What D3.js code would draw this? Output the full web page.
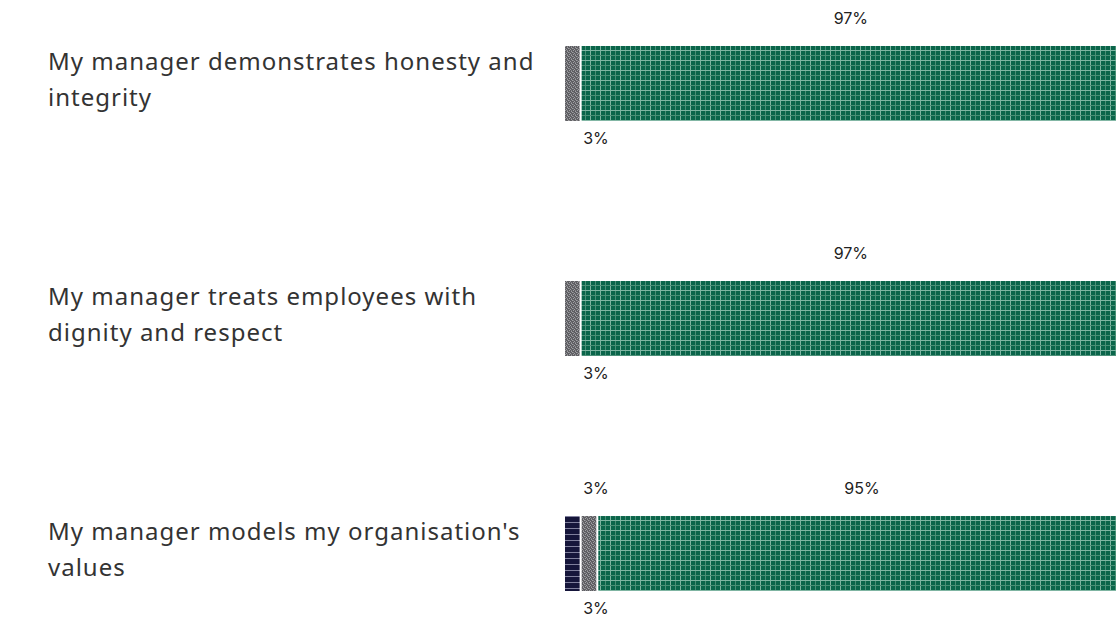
<!DOCTYPE html>
<html><head><meta charset="utf-8">
<script src="https://cdn.jsdelivr.net/npm/d3@7"></script>
<style>
html,body{margin:0;padding:0;background:#fff;}
svg{display:block;}
</style></head>
<body>
<script>
const categories = [
  ["My manager demonstrates honesty and", "integrity"],
  ["My manager treats employees with", "dignity and respect"],
  ["My manager models my organisation's", "values"]
];
const seriesNames = ["Disagree", "Neither agree nor disagree", "Agree"];
const disagree = [0, 0, 3];
const neither = [3, 3, 3];
const agree = [97, 97, 95];

const W = 1116, H = 623;
const svg = d3.select("body").append("svg").attr("width", W).attr("height", H);
const defs = svg.append("defs");

// green plaid pattern
const pg = defs.append("pattern").attr("id","pGreen").attr("patternUnits","userSpaceOnUse").attr("width",10).attr("height",10);
pg.append("rect").attr("width",10).attr("height",10).attr("fill","#0a654a");
pg.append("rect").attr("x",0).attr("y",0).attr("width",1).attr("height",10).attr("fill","#7fb5a2");
pg.append("rect").attr("x",5).attr("y",0).attr("width",1).attr("height",10).attr("fill","#4a8f76");
pg.append("rect").attr("x",0).attr("y",0).attr("width",10).attr("height",1).attr("fill","#7fb5a2");
pg.append("rect").attr("x",0).attr("y",5).attr("width",10).attr("height",1).attr("fill","#4a8f76");

// gray textured pattern
const pgr = defs.append("pattern").attr("id","pGray").attr("patternUnits","userSpaceOnUse").attr("width",4).attr("height",4);
pgr.append("rect").attr("width",4).attr("height",4).attr("fill","#5e5e62");
[[0,0],[2,1],[1,2],[3,3]].forEach(([x,y])=>pgr.append("rect").attr("x",x).attr("y",y).attr("width",1).attr("height",1).attr("fill","#a0a0a4"));
[[1,0],[3,2]].forEach(([x,y])=>pgr.append("rect").attr("x",x).attr("y",y).attr("width",1).attr("height",1).attr("fill","#808084"));

// navy striped pattern
const pn = defs.append("pattern").attr("id","pNavy").attr("patternUnits","userSpaceOnUse").attr("width",6).attr("height",6);
pn.append("rect").attr("width",6).attr("height",6).attr("fill","#15153a");
pn.append("rect").attr("x",0).attr("y",0).attr("width",6).attr("height",1).attr("fill","#7f7f9c");

const fills = ["url(#pNavy)", "url(#pGray)", "url(#pGreen)"];

const x = d3.scaleLinear().domain([0,100]).range([565, 1120]);
const y = d3.scaleBand().domain(d3.range(categories.length)).range([46, 591]).paddingInner(0.681).paddingOuter(0);

const rows = categories.map((c,i)=>{
  const vals = [disagree[i], neither[i], agree[i]];
  let cum = 0;
  return vals.map((v,k)=>{ const s = {k, v, x0: cum, x1: cum+v, row:i}; cum += v; return s; }).filter(s=>s.v>0);
});

const g = svg.append("g");
rows.forEach((segs,i)=>{
  const row = g.append("g");
  row.selectAll("rect").data(segs).join("rect")
    .attr("x", d=>x(d.x0))
    .attr("y", y(i))
    .attr("width", d=>Math.max(0, x(d.x1)-x(d.x0)-2))
    .attr("height", y.bandwidth())
    .attr("fill", d=>fills[d.k]);
  const small = segs.filter(s=>s.v<10);
  segs.forEach(s=>{
    let lx, ly;
    if (s.v >= 10) { lx = (x(s.x0)+x(s.x1))/2; ly = y(i) - 22; }
    else {
      lx = x(0) + 31;
      const idx = small.indexOf(s);
      const below = (small.length===1) || idx===0;
      ly = below ? y(i)+y.bandwidth()+23 : y(i)-22;
    }
    row.append("text").attr("x", lx).attr("y", ly).attr("text-anchor","middle")
      .attr("font-family","Inter, 'Liberation Sans', Arial, sans-serif").attr("font-size",16)
      .attr("fill","#222").text(s.v+"%");
  });
  const t = row.append("text").attr("x",48).attr("font-family","'Noto Sans', sans-serif")
    .attr("font-size",24).attr("letter-spacing",1).attr("fill","#333");
  const cy = y(i) + y.bandwidth()/2;
  const lh = 36;
  categories[i].forEach((line,j)=>{
    t.append("tspan").attr("x",48).attr("y", cy - 13.5 + j*lh).text(line);
  });
});
</script>
</body></html>
